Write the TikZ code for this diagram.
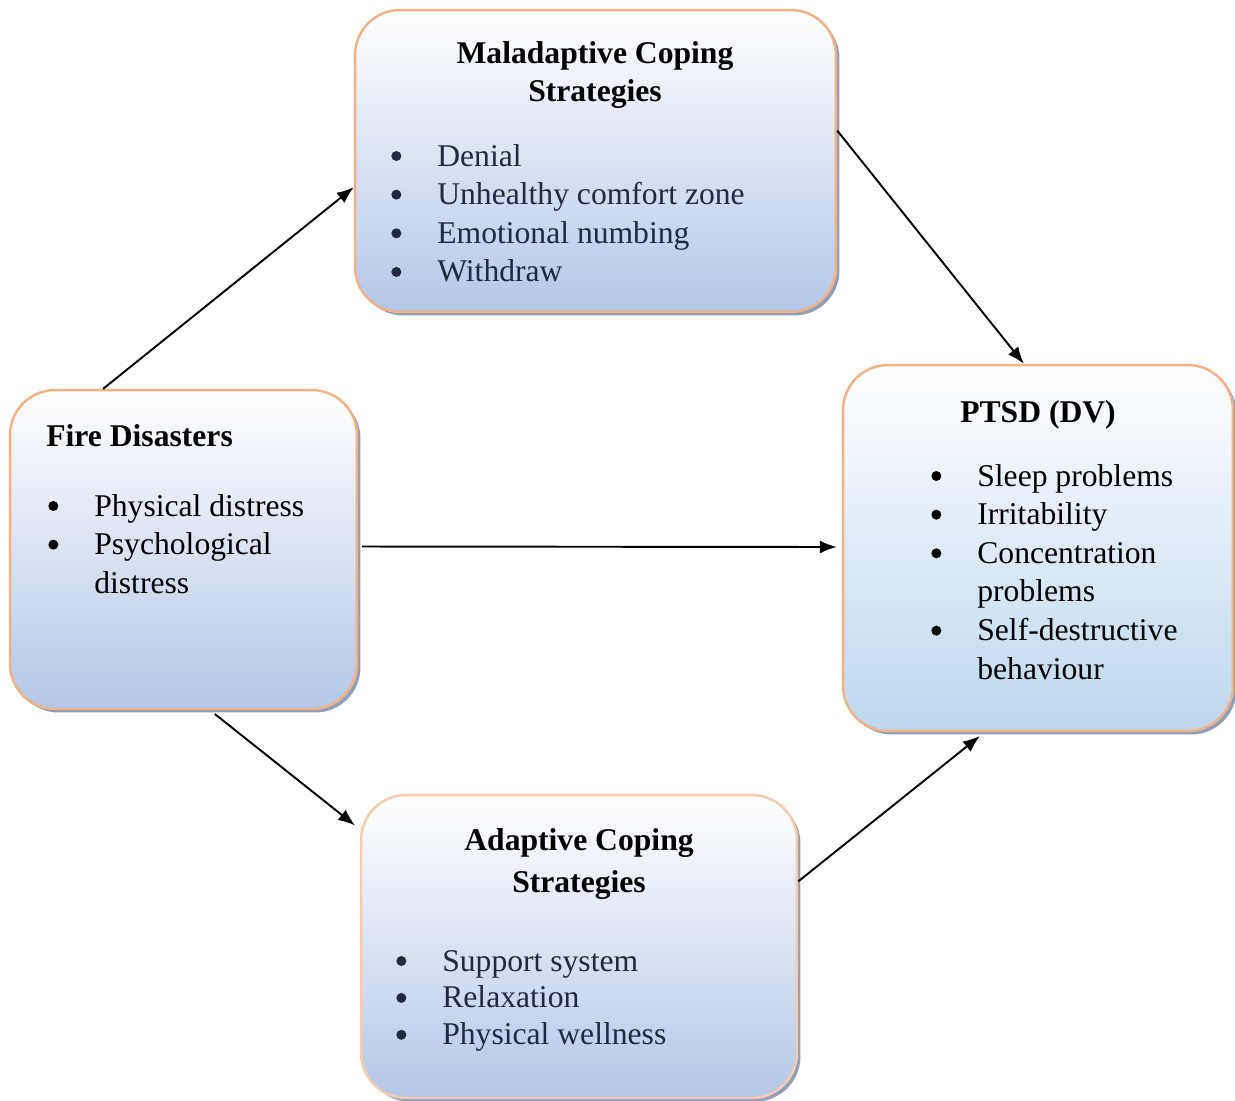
\documentclass[tikz,border=0pt]{standalone}
\usepackage{fontspec}
\setmainfont{Liberation Serif}
\usepackage{xcolor}
\usepackage{tikz}
\usetikzlibrary{positioning, arrows.meta, calc, shadows}
\definecolor{edge}{HTML}{F4B183}
\definecolor{edgeLight}{HTML}{F8CBAD}
\definecolor{fillBlue}{HTML}{B4C7E7}
\definecolor{fillSky}{HTML}{BDD7EE}
\definecolor{shade}{HTML}{8E9FBC}
\definecolor{navy}{HTML}{1F2940}

\newcommand{\blist}[1]{\begin{tabular}[t]{@{}p{0.92cm}@{}l@{}}#1\end{tabular}}
\newcommand{\btitle}[1]{\begin{tabular}[t]{@{}c@{}}#1\end{tabular}}
\newcommand{\dotb}{\tikz[x=1cm, y=1cm, baseline=0pt]\fill (0.1,0.2) circle (0.1);}

\begin{document}
\begin{tikzpicture}[
    x=0.02cm, y=-0.02cm,
    font=\fontsize{18}{22}\selectfont,
    box/.style={draw=edge, line width=1.4pt, rounded corners=0.9cm,
                top color=white, middle color=fillBlue!40, bottom color=fillBlue,
                drop shadow={shadow xshift=0.07cm, shadow yshift=-0.07cm,
                             fill=shade, opacity=1}},
    ttl/.style={anchor=base, inner sep=0pt, font=\fontsize{18}{22}\selectfont\bfseries},
    lst/.style={anchor=base west, inner sep=0pt},
    arr/.style={-{Latex[length=0.34cm, width=0.26cm]}, line width=1.1pt, draw=black}]

  \useasboundingbox (0,0) rectangle (1235,1100);

  \node[box, minimum width=9.62cm, minimum height=6.04cm] (mal)  at (595.5,161) {};
  \node[box, minimum width=6.94cm, minimum height=6.38cm] (fire) at (183.5,549.5) {};
  \node[box, middle color=fillSky!40, bottom color=fillSky, minimum width=7.8cm, minimum height=7.32cm] (ptsd) at (1038,548) {};
  \node[box, draw=edgeLight, minimum width=8.72cm, minimum height=6.06cm] (adap) at (579,946.5) {};

  \node[ttl] (malT) at (595,63) {\btitle{Maladaptive Coping\\Strategies}};
  \node[lst, text=navy] (malL) at (391,166) {\blist{\dotb & Denial\\
      \dotb & Unhealthy comfort zone\\
      \dotb & Emotional numbing\\
      \dotb & Withdraw}};

  \node[ttl, anchor=base west] (fireT) at (46,446) {Fire Disasters};
  \node[lst] (fireL) at (48,516) {\blist{\dotb & Physical distress\\
      \dotb & Psychological\\
      & distress}};

  \node[ttl] (ptsdT) at (1038,422) {PTSD (DV)};
  \node[lst] (ptsdL) at (931,486) {\blist{\dotb & Sleep problems\\
      \dotb & Irritability\\
      \dotb & Concentration\\
      & problems\\
      \dotb & Self-destructive\\
      & behaviour}};

  \node[ttl] (adapT) at (579,850) {\btitle{Adaptive Coping\\[2pt]Strategies}};
  \node[lst, text=navy] (adapL) at (396,971) {\blist{\dotb & Support system\\[-1pt]
      \dotb & Relaxation\\[-1pt]
      \dotb & Physical wellness}};

  \draw[arr] ($(fire.north west)!0.27!(fire.north east)$)
          -- ($(mal.north west)!0.586!(mal.south west)$);
  \draw[arr] ($(mal.north east)!0.40!(mal.south east)$)
          -- ($(ptsd.north west)!0.464!(ptsd.north east)$);
  \draw[arr, shorten <=0.08cm, shorten >=0.1cm] ($(fire.east)+(0,-3)$) -- ($(ptsd.west)+(0,-1)$);
  \draw[arr, shorten <=0.12cm, shorten >=0.12cm] ($(fire.south west)!0.576!(fire.south east)$)
          -- ($(adap.north west)!0.116!(adap.south west)$);
  \draw[arr, shorten >=0.12cm] ($(adap.north east)!0.287!(adap.south east)$)
          -- ($(ptsd.south west)!0.364!(ptsd.south east)$);
\end{tikzpicture}
\end{document}
